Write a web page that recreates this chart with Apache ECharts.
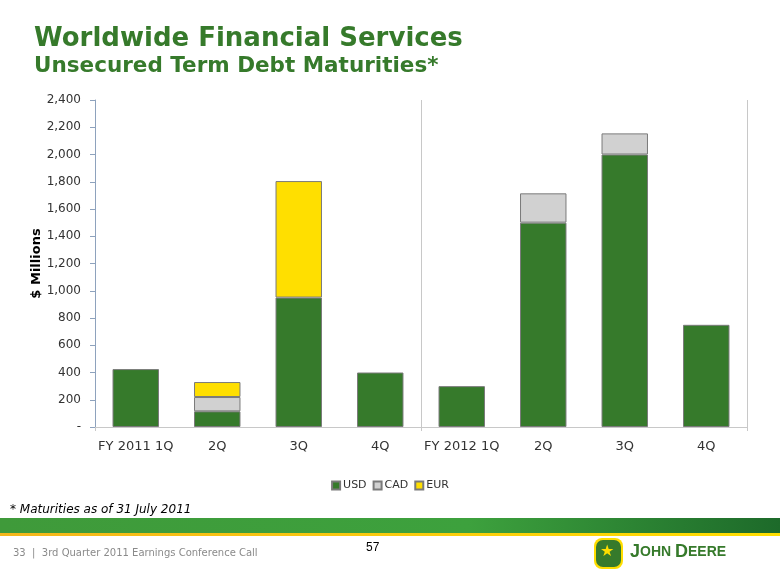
<!DOCTYPE html>
<html><head><meta charset="utf-8">
<script src="https://cdn.jsdelivr.net/npm/echarts@6/dist/echarts.min.js"></script>
<style>html,body{margin:0;padding:0;background:#fff}#c{width:780px;height:585px}</style>
</head><body><div id="c"></div>
<script>
var categories = ['FY 2011 1Q','2Q','3Q','4Q','FY 2012 1Q','2Q','3Q','4Q'];
var usd = [425, 115, 950, 400, 300, 1500, 2000, 750];
var cad = [0, 105, 0, 0, 0, 215, 155, 0];
var eur = [0, 110, 855, 0, 0, 0, 0, 0];
var yTicks = [0, 200, 400, 600, 800, 1000, 1200, 1400, 1600, 1800, 2000, 2200, 2400];

var chart = echarts.init(document.getElementById('c'), null, {renderer:'canvas'});
var font = 'DejaVu Sans, Verdana, sans-serif';
function lbl(v){ return v === 0 ? '-' : v.toLocaleString('en-US'); }
var barStyle = function(c){ return {color:c, borderColor:'#7a7a7a', borderWidth:1}; };
chart.setOption({
  animation:false,
  backgroundColor:'#fff',
  grid:{left:95, right:33, top:100, bottom:158, containLabel:false},
  legend:{
    top:475, left:'center', itemWidth:8, itemHeight:8, itemGap:6,
    textStyle:{fontFamily:font, fontSize:11, color:'#333', padding:[0,0,0,-2]},
    data:[{name:'USD',icon:'rect'},{name:'CAD',icon:'rect'},{name:'EUR',icon:'rect'}]
  },
  xAxis:[{
    type:'category', data:categories, position:'bottom',
    axisLine:{lineStyle:{color:'#c8c8c8', width:1}},
    axisTick:{show:false},
    axisLabel:{fontFamily:font, fontSize:13, color:'#333', margin:13, interval:0}
  },{
    type:'value', min:0, max:8, interval:4, position:'bottom', show:true,
    axisLine:{show:false}, axisTick:{show:true, length:4, lineStyle:{color:'#c8c8c8'}},
    axisLabel:{show:false},
    splitLine:{show:true, lineStyle:{color:'#c8c8c8', width:1}}
  }],
  yAxis:{
    type:'value', min:0, max:2400, interval:200,
    name:'$ Millions', nameLocation:'middle', nameGap:52, nameRotate:90, nameMoveOverlap:false,
    nameTextStyle:{fontFamily:font, fontSize:13, fontWeight:'bold', color:'#000'},
    axisLine:{show:true, lineStyle:{color:'#8ea2bd', width:1}},
    axisTick:{show:true, inside:false, length:5, lineStyle:{color:'#8ea2bd'}},
    axisLabel:{fontFamily:font, fontSize:12, color:'#333', margin:14,
      formatter:function(v){ return lbl(v); }},
    splitLine:{show:false}
  },
  series:[
    {name:'USD', type:'bar', stack:'a', data:usd, barWidth:'57%', itemStyle:barStyle('#367a2b')},
    {name:'CAD', type:'bar', stack:'a', data:cad.map(function(v){return v||null;}), barWidth:'57%', itemStyle:barStyle('#d1d1d1')},
    {name:'EUR', type:'bar', stack:'a', data:eur.map(function(v){return v||null;}), barWidth:'57%', itemStyle:barStyle('#ffdf00')}
  ],
  graphic:[
    {type:'text', left:34, top:26, style:{text:'Worldwide Financial Services', font:'bold 26px '+font, fill:'#367a2b'}},
    {type:'text', left:34, top:55, style:{text:'Unsecured Term Debt Maturities*', font:'bold 21.5px '+font, fill:'#367a2b'}},
    {type:'text', left:10, top:504, style:{text:'* Maturities as of 31 July 2011', font:'italic 12px '+font, fill:'#000'}},
    {type:'rect', shape:{x:0, y:518, width:780, height:15},
      style:{fill:{type:'linear', x:0, y:0, x2:1, y2:0, colorStops:[{offset:0,color:'#3f9a3a'},{offset:0.6,color:'#3da13d'},{offset:1,color:'#1d6a2a'}]}}},
    {type:'rect', shape:{x:0, y:533, width:780, height:3},
      style:{fill:{type:'linear', x:0, y:0, x2:1, y2:0, colorStops:[{offset:0,color:'#f4b61b'},{offset:1,color:'#ffde00'}]}}},
    {type:'text', left:13, top:548, style:{text:'33  |  3rd Quarter 2011 Earnings Conference Call', font:'10px '+font, fill:'#8a8a8a'}},
    {type:'text', left:366, top:542, style:{text:'57', font:'12px Liberation Sans, Arial, sans-serif', fill:'#000'}},
    {type:'rect', shape:{x:594, y:538, width:29, height:31, r:8}, style:{fill:'#ffde00'}},
    {type:'rect', shape:{x:596, y:540, width:25, height:27, r:7}, style:{fill:'#367a2b'}},
    {type:'text', left:600, top:544, style:{text:'\u2605', font:'16px DejaVu Sans', fill:'#ffde00'}},
    {type:'text', left:630, top:543, style:{text:'{a|J}{b|OHN }{a|D}{b|EERE}', rich:{a:{font:'bold 18px Liberation Sans, Arial, sans-serif', fill:'#367a2b'}, b:{font:'bold 14px Liberation Sans, Arial, sans-serif', fill:'#367a2b'}}}}
  ]
});
</script></body></html>
